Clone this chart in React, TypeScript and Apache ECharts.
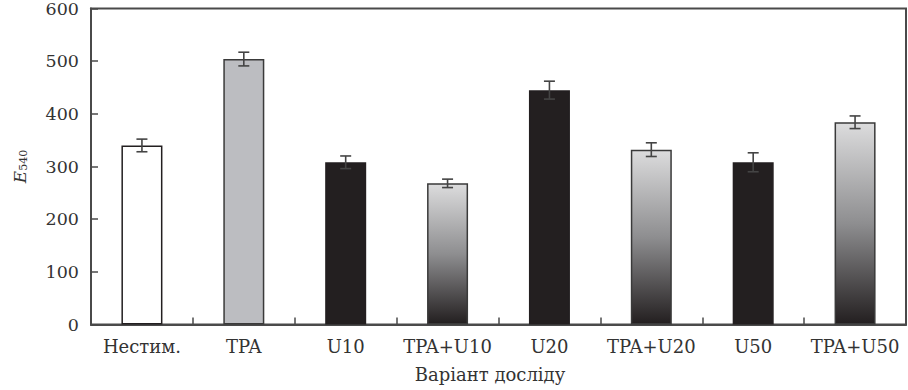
import React, { useEffect, useRef } from "react";
import * as echarts from "echarts";

const categories = ["Нестим.", "TPA", "U10", "TPA+U10", "U20", "TPA+U20", "U50", "TPA+U50"];
const values = [340, 504, 308, 268, 445, 332, 308, 384];
const errors = [12, 13, 12, 8, 17, 13, 18, 12];
const fillKinds = ["white", "grey", "black", "gradient", "black", "gradient", "black", "gradient"];
const yTicks = [0, 100, 200, 300, 400, 500, 600];

const SERIF = "'DejaVu Serif', 'Liberation Serif', serif";

function fillFor(kind: string): any {
  if (kind === "white") return "#ffffff";
  if (kind === "grey") return "#bcbdc1";
  if (kind === "black") return "#231f20";
  return new echarts.graphic.LinearGradient(0, 0, 0, 1, [
    { offset: 0, color: "#dcdcdd" },
    { offset: 0.5, color: "#8e8e90" },
    { offset: 1, color: "#231f20" },
  ]);
}
function borderFor(kind: string): string {
  if (kind === "black") return "#231f20";
  if (kind === "white") return "#231f20";
  return "#3a3a3a";
}

export default function App() {
  const ref = useRef<HTMLDivElement>(null);
  useEffect(() => {
    if (!ref.current) return;
    const chart = echarts.init(ref.current, undefined, { renderer: "svg" });
    const barData = values.map((v, i) => ({
      value: v,
      itemStyle: {
        color: fillFor(fillKinds[i]),
        borderColor: borderFor(fillKinds[i]),
        borderWidth: 1.5,
      },
    }));
    const errData = values.map((v, i) => [i, v - errors[i], v + errors[i]]);
    chart.setOption({
      animation: false,
      grid: {
        left: 91,
        right: 2,
        top: 8.5,
        bottom: 65.5,
        outerBoundsMode: "none",
        containLabel: false,
        show: true,
        borderColor: "#4a4a4a",
        borderWidth: 2,
        backgroundColor: "transparent",
      },
      xAxis: {
        type: "category",
        data: categories,
        boundaryGap: true,
        name: "Варіант досліду",
        nameLocation: "middle",
        nameGap: 41,
        nameTextStyle: { fontFamily: SERIF, fontSize: 18, color: "#333", padding: [0, 17, 0, 0] },
        axisLine: { show: true, lineStyle: { color: "#4a4a4a", width: 2 } },
        axisTick: { show: true, inside: true, length: 7, lineStyle: { color: "#4a4a4a", width: 1.5 } },
        axisLabel: { fontFamily: SERIF, fontSize: 18, color: "#333", margin: 13, interval: 0 },
        splitLine: { show: false },
      },
      yAxis: {
        type: "value",
        min: 0,
        max: 600,
        interval: 100,
        name: "{i|E}{s|540}",
        nameLocation: "middle",
        nameRotate: 90,
        nameGap: 62,
        nameTextStyle: {
          rich: {
            i: { fontFamily: SERIF, fontSize: 17, fontStyle: "italic", color: "#333" },
            s: { fontFamily: SERIF, fontSize: 11, color: "#333", padding: [8, 0, 0, 0] },
          },
        },
        axisLine: { show: true, lineStyle: { color: "#4a4a4a", width: 2 } },
        axisTick: { show: true, inside: true, length: 7, lineStyle: { color: "#4a4a4a", width: 1.5 } },
        axisLabel: {
          fontFamily: SERIF,
          fontSize: 17.5,
          color: "#333",
          margin: 12,
          formatter: (v: number) => (yTicks.includes(v) ? String(v) : ""),
        },
        splitLine: { show: false },
      },
      series: [
        {
          type: "bar",
          data: barData,
          barWidth: 41,
          z: 2,
        },
        {
          type: "custom",
          z: 5,
          data: errData,
          renderItem: (params: any, api: any) => {
            const x = api.value(0);
            const lo = api.coord([x, api.value(1)]);
            const hi = api.coord([x, api.value(2)]);
            const half = 5.5;
            const style = { stroke: "#444", lineWidth: 1.6 };
            return {
              type: "group",
              children: [
                { type: "line", shape: { x1: lo[0], y1: lo[1], x2: hi[0], y2: hi[1] }, style },
                { type: "line", shape: { x1: hi[0] - half, y1: hi[1], x2: hi[0] + half, y2: hi[1] }, style },
                { type: "line", shape: { x1: lo[0] - half, y1: lo[1], x2: lo[0] + half, y2: lo[1] }, style },
              ],
            };
          },
        },
      ],
    });
    return () => chart.dispose();
  }, []);
  return <div ref={ref} style={{ width: 908, height: 390, position: "absolute", left: 0, top: 0 }} />;
}
